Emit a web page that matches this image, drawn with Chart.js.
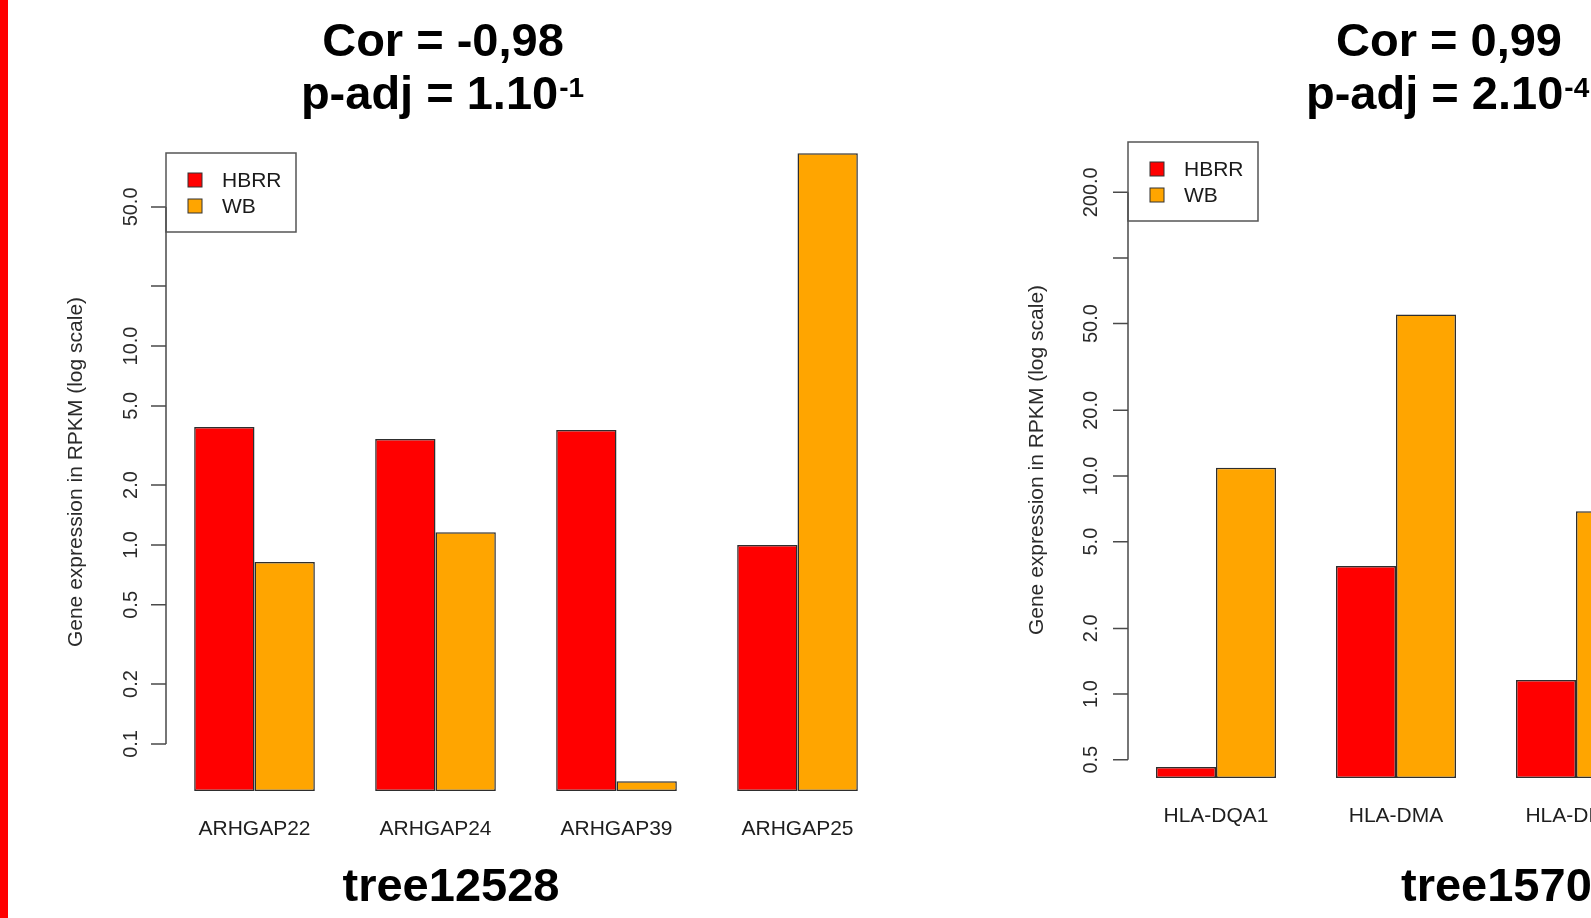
<!DOCTYPE html>
<html>
<head>
<meta charset="utf-8">
<script src="https://cdn.jsdelivr.net/npm/chart.js@4/dist/chart.umd.min.js"></script>
<style>
  html, body { margin: 0; padding: 0; background: #fff; overflow: hidden; }
  body { width: 1591px; height: 918px; position: relative; }
  #stripe { position: absolute; left: 0; top: 0; width: 8px; height: 918px; background: #ff0000; }
  #left { position: absolute; left: 0; top: 0; }
  #right { position: absolute; left: 960px; top: 0; }
</style>
</head>
<body>
<div id="stripe"></div>
<canvas id="left" width="960" height="918"></canvas>
<canvas id="right" width="760" height="918"></canvas>
<script>
// Gene family tree12528 (RPKM)
const leftGenes = ['ARHGAP22', 'ARHGAP24', 'ARHGAP39', 'ARHGAP25'];
const leftHBRR = [3.92, 3.41, 3.78, 1.0];
const leftWB = [0.82, 1.16, 0.065, 93];
const leftTickValues = [0.1, 0.2, 0.5, 1, 2, 5, 10, 20, 50];
const leftTickLabels = ['0.1', '0.2', '0.5', '1.0', '2.0', '5.0', '10.0', '', '50.0'];

// Gene family tree1570x (RPKM)
const rightGenes = ['HLA-DQA1', 'HLA-DMA', 'HLA-DPA1'];
const rightHBRR = [0.463, 3.87, 1.16];
const rightWB = [10.9, 55, 6.9];
const rightTickValues = [0.5, 1, 2, 5, 10, 20, 50, 100, 200];
const rightTickLabels = ['0.5', '1.0', '2.0', '5.0', '10.0', '20.0', '50.0', '', '200.0'];

const seriesNames = ['HBRR', 'WB'];
const seriesColors = ['#ff0000', '#ffa500'];
const yTitle = 'Gene expression in RPKM (log scale)';

const FONT = "'Liberation Sans', Arial, Helvetica, sans-serif";

// R-style y axis, inset legend and bold headings
const rDecor = {
  id: 'rDecor',
  afterDraw(chart, args, o) {
    const { ctx, chartArea } = chart;
    const y = chart.scales.y;
    const ax = chartArea.left + o.axisShift;
    ctx.save();

    // axis line spans first..last tick
    ctx.strokeStyle = '#4a4a4a';
    ctx.lineWidth = 1.5;
    const pTop = y.getPixelForValue(o.tickValues[o.tickValues.length - 1]);
    const pBot = y.getPixelForValue(o.tickValues[0]);
    ctx.beginPath();
    ctx.moveTo(ax, pTop);
    ctx.lineTo(ax, pBot);
    o.tickValues.forEach(v => {
      const py = y.getPixelForValue(v);
      ctx.moveTo(ax - 15, py);
      ctx.lineTo(ax, py);
    });
    ctx.stroke();

    // tick labels, parallel to the axis
    ctx.fillStyle = '#2a2a2a';
    ctx.font = '20px ' + FONT;
    ctx.textAlign = 'center';
    ctx.textBaseline = 'middle';
    o.tickValues.forEach((v, i) => {
      const lab = o.tickLabels[i];
      if (!lab) return;
      const py = y.getPixelForValue(v);
      ctx.save();
      ctx.translate(o.labelX, py);
      ctx.rotate(-Math.PI / 2);
      ctx.fillText(lab, 0, 0);
      ctx.restore();
    });

    // axis title
    ctx.save();
    ctx.font = '21px ' + FONT;
    ctx.translate(o.titleX, o.titleY);
    ctx.rotate(-Math.PI / 2);
    ctx.fillText(yTitle, 0, 0);
    ctx.restore();

    // legend box
    const lx = ax, ly = o.legendY, lw = 130, lh = 79;
    ctx.strokeStyle = '#555';
    ctx.lineWidth = 1.5;
    ctx.strokeRect(lx, ly, lw, lh);
    ctx.font = '21px ' + FONT;
    ctx.textAlign = 'left';
    chart.data.datasets.forEach((ds, i) => {
      const cy = ly + 27 + i * 26;
      ctx.fillStyle = ds.backgroundColor;
      ctx.fillRect(lx + 22, cy - 7, 14, 14);
      ctx.strokeStyle = '#333';
      ctx.lineWidth = 1;
      ctx.strokeRect(lx + 22, cy - 7, 14, 14);
      ctx.fillStyle = '#1a1a1a';
      ctx.fillText(ds.label, lx + 56, cy + 1);
    });

    // bold headings
    ctx.fillStyle = '#000';
    ctx.textBaseline = 'alphabetic';
    o.headings.forEach(h => {
      ctx.font = 'bold 47px ' + FONT;
      const w = ctx.measureText(h.text).width;
      ctx.font = 'bold 28px ' + FONT;
      const ws = h.sup ? ctx.measureText(h.sup).width : 0;
      const start = h.align === 'left' ? h.x : h.x - (w + ws) / 2;
      ctx.textAlign = 'left';
      ctx.font = 'bold 47px ' + FONT;
      ctx.fillText(h.text, start, h.y);
      if (h.sup) {
        ctx.font = 'bold 28px ' + FONT;
        ctx.fillText(h.sup, start + w + 1, h.y - 12);
      }
    });
    ctx.restore();
  }
};

function makeChart(id, genes, hbrr, wb, tickValues, tickLabels, cfg) {
  return new Chart(document.getElementById(id), {
    type: 'bar',
    data: {
      labels: genes,
      datasets: [
        { label: seriesNames[0], data: hbrr, backgroundColor: seriesColors[0] },
        { label: seriesNames[1], data: wb, backgroundColor: seriesColors[1] }
      ]
    },
    options: {
      responsive: false,
      animation: false,
      layout: { padding: cfg.padding },
      datasets: {
        bar: {
          categoryPercentage: 2 / 3,
          barPercentage: 1,
          borderWidth: 1.5,
          borderColor: '#2e2e2e',
          borderSkipped: false
        }
      },
      scales: {
        x: {
          grid: { display: false, drawTicks: false },
          border: { display: false },
          ticks: {
            padding: 26,
            color: '#1e1e1e',
            font: { family: FONT, size: 21 },
            maxRotation: 0,
            autoSkip: false
          },
          afterFit: s => { s.height = 60; }
        },
        y: {
          type: 'logarithmic',
          min: cfg.yMin,
          max: cfg.yMax,
          grid: { display: false, drawTicks: false },
          border: { display: false },
          ticks: { display: false },
          afterFit: s => { s.width = 0; }
        }
      },
      plugins: {
        legend: { display: false },
        tooltip: { enabled: false },
        rDecor: {
          tickValues, tickLabels,
          axisShift: cfg.axisShift,
          labelX: cfg.labelX,
          titleX: cfg.titleX,
          titleY: cfg.titleY,
          legendY: cfg.legendY,
          headings: cfg.headings
        }
      }
    },
    plugins: [rDecor]
  });
}

makeChart('left', leftGenes, leftHBRR, leftWB, leftTickValues, leftTickLabels, {
  padding: { left: 164, right: 72, top: 120, bottom: 67 },
  yMin: 0.058, yMax: 136.7,
  axisShift: 2,
  labelX: 131, titleX: 76, titleY: 472, legendY: 153,
  headings: [
    { text: 'Cor = -0,98', x: 443, y: 56 },
    { text: 'p-adj = 1.10', sup: '-1', x: 442, y: 109 },
    { text: 'tree12528', x: 451, y: 901 }
  ]
});

makeChart('right', rightGenes, rightHBRR, rightWB, rightTickValues, rightTickLabels, {
  padding: { left: 166, right: 54, top: 110, bottom: 80 },
  yMin: 0.412, yMax: 477,
  axisShift: 2,
  labelX: 131, titleX: 77, titleY: 460, legendY: 142,
  headings: [
    { text: 'Cor = 0,99', x: 489, y: 56 },
    { text: 'p-adj = 2.10', sup: '-4', x: 346, y: 109, align: 'left' },
    { text: 'tree1570', x: 441, y: 901, align: 'left' }
  ]
});
</script>
</body>
</html>
